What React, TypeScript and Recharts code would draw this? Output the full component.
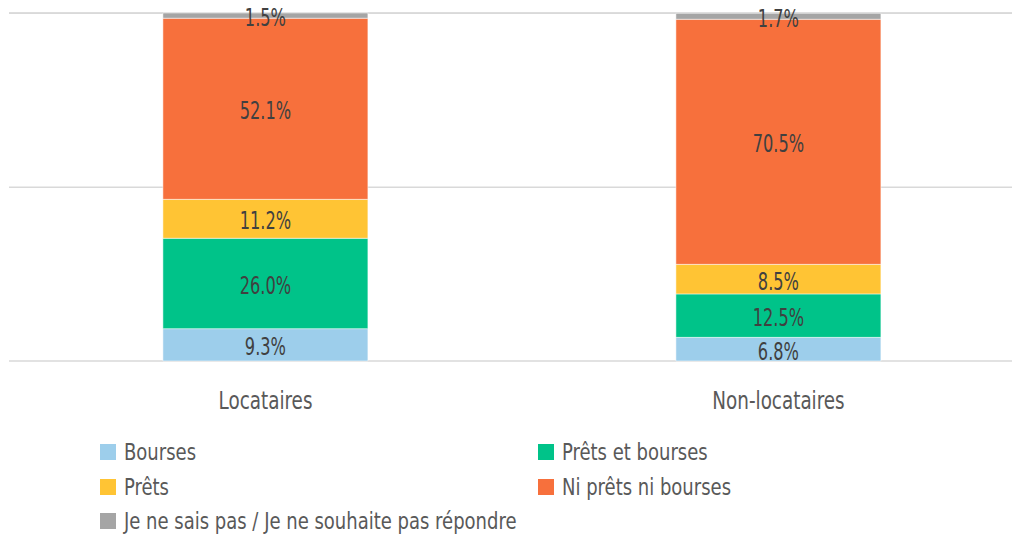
import React from 'react';
import { BarChart, Bar, XAxis, YAxis, CartesianGrid, Legend, LabelList } from 'recharts';

const categories = ['Locataires', 'Non-locataires'];
const bourses = [9.3, 6.8];
const pretsEtBourses = [26.0, 12.5];
const prets = [11.2, 8.5];
const niPretsNiBourses = [52.1, 70.5];
const neSaisPas = [1.5, 1.7];
const yTicks = [0, 50, 100];

const seriesDefs = [
  { key: 'bourses', name: 'Bourses', color: '#9DCEEB', values: bourses },
  { key: 'pretsEtBourses', name: 'Prêts et bourses', color: '#00C389', values: pretsEtBourses },
  { key: 'prets', name: 'Prêts', color: '#FFC434', values: prets },
  { key: 'ni', name: 'Ni prêts ni bourses', color: '#F7703C', values: niPretsNiBourses },
  { key: 'nsp', name: 'Je ne sais pas / Je ne souhaite pas répondre', color: '#A5A5A5', values: neSaisPas },
];

const data = categories.map((c, i) => {
  const row: Record<string, any> = { name: c };
  seriesDefs.forEach((s) => {
    row[s.key] = s.values[i];
  });
  return row;
});

const FONT = '"DejaVu Sans Condensed", "DejaVu Sans", sans-serif';

const XTick = (props: any) => {
  const { x, y, payload } = props;
  return (
    <text
      transform={`translate(${x},${y + 48}) scale(0.85,1)`}
      x={0}
      y={0}
      textAnchor="middle"
      fill="#595959"
      fontSize={24}
      fontFamily={FONT}
    >
      {payload.value}
    </text>
  );
};

const SegLabel = (props: any) => {
  const { x, y, width, height, value } = props;
  const cx = Number(x) + Number(width) / 2;
  const cy = Number(y) + Number(height) / 2 + 2;
  return (
    <text
      transform={`translate(${cx},${cy}) scale(0.75,1)`}
      x={0}
      y={0}
      textAnchor="middle"
      dominantBaseline="central"
      fill="#404040"
      fontSize={24}
      fontFamily={FONT}
    >
      {`${Number(value).toFixed(1)}%`}
    </text>
  );
};

const LegendContent = () => {
  return (
    <div
      style={{
        display: 'grid',
        gridTemplateColumns: '438px 400px',
        gridAutoRows: '34.5px',
        height: 105,
        paddingLeft: 100,
        fontFamily: FONT,
        fontSize: 23,
        color: '#595959',
      }}
    >
      {seriesDefs.map((s) => (
        <div key={s.key} style={{ display: 'flex', alignItems: 'center', whiteSpace: 'nowrap' }}>
          <span
            style={{ display: 'inline-block', flexShrink: 0, width: 16, height: 16, background: s.color, marginRight: 8 }}
          />
          <span style={{ display: 'inline-block', transform: 'scaleX(0.87)', transformOrigin: 'left center' }}>{s.name}</span>
        </div>
      ))}
    </div>
  );
};

export default function App() {
  return (
    <div style={{ width: 1020, height: 536, marginLeft: -8, marginTop: -8, position: 'relative' }}>
      <BarChart
        width={1020}
        height={536}
        data={data}
        margin={{ top: 13, right: -15, left: 9, bottom: 20 }}
        barCategoryGap="30%"
      >
        <CartesianGrid vertical={false} stroke="#D9D9D9" strokeWidth={1.5} />
        <XAxis
          dataKey="name"
          axisLine={false}
          tickLine={false}
          tickSize={0}
          tickMargin={0}
          height={50}
          tick={<XTick />}
          interval={0}
        />
        <YAxis hide domain={[0, 100]} ticks={yTicks} />
        <Legend
          verticalAlign="bottom"
          content={<LegendContent />}
          wrapperStyle={{ top: 435, left: 0, bottom: 'auto', width: 1020, height: 105 }}
        />
        {seriesDefs.map((s) => (
          <Bar
            key={s.key}
            dataKey={s.key}
            name={s.name}
            stackId="a"
            fill={s.color}
            stroke="#FFFFFF"
            strokeWidth={0.5}
            isAnimationActive={false}
          >
            <LabelList dataKey={s.key} content={<SegLabel />} />
          </Bar>
        ))}
      </BarChart>
    </div>
  );
}
